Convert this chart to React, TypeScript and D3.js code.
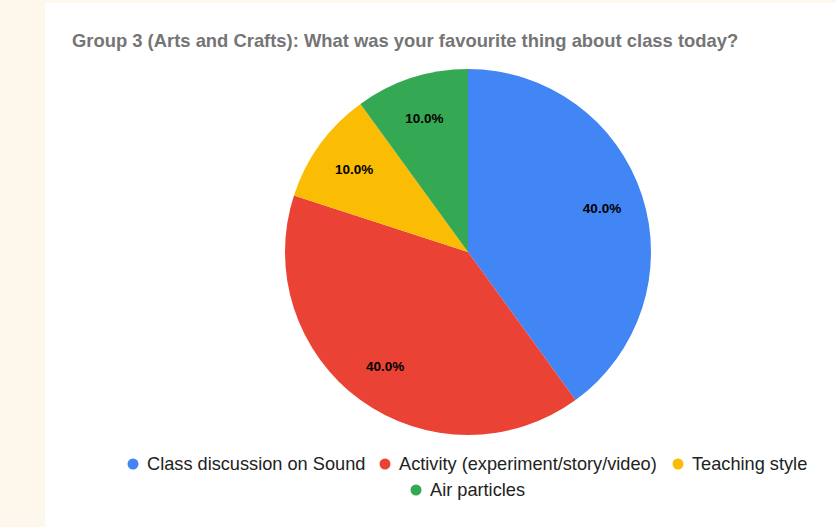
import React from "react";
import * as d3 from "d3";

const categories = [
  "Class discussion on Sound",
  "Activity (experiment/story/video)",
  "Teaching style",
  "Air particles",
];
const values = [4, 4, 1, 1];
const colors = ["#4285f4", "#ea4335", "#fbbc04", "#34a853"];
const title = "Group 3 (Arts and Crafts): What was your favourite thing about class today?";

const W = 836;
const H = 527;

export default function App() {
  const cx = 468;
  const cy = 252;
  const R = 183;
  const pie = d3.pie<number>().sort(null).value((d) => d)(values);
  const arc = d3.arc<d3.PieArcDatum<number>>().innerRadius(0).outerRadius(R);
  const labelArc = d3
    .arc<d3.PieArcDatum<number>>()
    .innerRadius(R * 0.77)
    .outerRadius(R * 0.77);
  const total = d3.sum(values);
  const fmt = d3.format(".1%");

  const legendRow1 = [
    { i: 0, x: 133 },
    { i: 1, x: 385 },
    { i: 2, x: 678 },
  ];
  const legendRow2 = [{ i: 3, x: 416 }];

  return (
    <div style={{ position: "fixed", left: 0, top: 0, width: W, height: H }}>
      <svg width={W} height={H} style={{ display: "block" }}>
        <rect x={0} y={0} width={W} height={H} fill="#fef7ec" />
        <rect x={45} y={3} width={W - 45} height={H - 3} fill="#ffffff" />
        <text
          x={72}
          y={47}
          fontFamily="Liberation Sans, Arial, sans-serif"
          fontSize={18.4}
          fontWeight="bold"
          fill="#757575"
        >
          {title}
        </text>
        <g transform={`translate(${cx},${cy})`}>
          {pie.map((p, i) => (
            <path key={i} d={arc(p) || ""} fill={colors[i]} />
          ))}
          {pie.map((p, i) => {
            const [lx, ly] = labelArc.centroid(p);
            return (
              <text
                key={"l" + i}
                x={lx}
                y={ly}
                dy="0.35em"
                textAnchor="middle"
                fontFamily="Liberation Sans, Arial, sans-serif"
                fontSize={13.5}
                fontWeight="bold"
                fill="#000000"
              >
                {fmt(values[i] / total)}
              </text>
            );
          })}
        </g>
        {[...legendRow1.map((d) => ({ ...d, y: 464 })), ...legendRow2.map((d) => ({ ...d, y: 490 }))].map(
          (d) => (
            <g key={"lg" + d.i}>
              <circle cx={d.x} cy={d.y} r={5.5} fill={colors[d.i]} />
              <text
                x={d.x + 14}
                y={d.y}
                dy="0.35em"
                fontFamily="Liberation Sans, Arial, sans-serif"
                fontSize={18.2}
                fill="#222222"
              >
                {categories[d.i]}
              </text>
            </g>
          )
        )}
      </svg>
    </div>
  );
}
